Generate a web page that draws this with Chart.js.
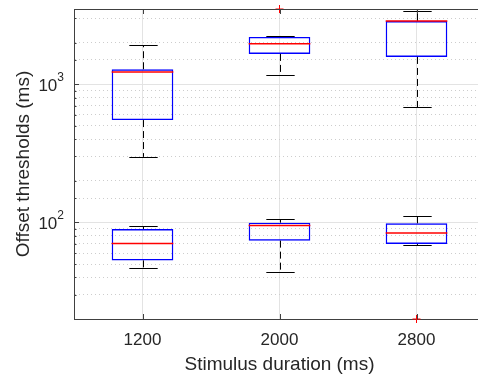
<!DOCTYPE html>
<html>
<head>
<meta charset="utf-8">
<script src="https://cdn.jsdelivr.net/npm/chart.js@4.4.1/dist/chart.umd.min.js"></script>
<style>
  html, body { margin: 0; padding: 0; background: #fff; overflow: hidden; }
  #wrap { width: 490px; height: 378px; }
</style>
</head>
<body>
<div id="wrap"><canvas id="myChart"></canvas></div>
<script>
// Stimulus durations (categories)
const durations = ["1200", "2000", "2800"];
// upper group of boxes (ms)
const hiWhiskLow = [298, 1167, 682];
const hiQ1 = [550, 1656, 1574];
const hiMedian = [1227, 1963, 2866];
const hiQ3 = [1283, 2198, 2866];
const hiWhiskHigh = [1915, 2233, 3404];
const hiOutliers = [null, 3500, null];
// lower group of boxes (ms)
const loWhiskLow = [46.9, 43.4, 68.7];
const loQ1 = [53.1, 73.8, 69.8];
const loMedian = [70.5, 95.1, 83.8];
const loQ3 = [89.6, 99.5, 98.5];
const loWhiskHigh = [93.6, 105.8, 111.8];
const loOutliers = [null, null, 20];
// y axis
const yMin = 20;
const yMax = 3500;
const yLabelTicks = [100, 1000];

const axisColor = "#404040";
const textColor = "#262626";
const fontFamily = "'Liberation Sans', Arial, sans-serif";

// whiskers, caps, medians, inward ticks, top frame, y labels
const boxExtras = {
  id: "boxExtras",
  afterDatasetsDraw(chart) {
    const { ctx, chartArea } = chart;
    const x = chart.scales.x;
    const y = chart.scales.y;
    const meta = chart.getDatasetMeta(0);
    const groups = [
      [hiWhiskLow, hiQ1, hiMedian, hiQ3, hiWhiskHigh],
      [loWhiskLow, loQ1, loMedian, loQ3, loWhiskHigh],
    ];
    ctx.save();
    groups.forEach(([wl, q1, med, q3, wh]) => {
      durations.forEach((d, i) => {
        const cx = Math.round(x.getPixelForValue(i)) + 0.5;
        const half = meta.data[i].width / 2;
        const cap = half * 0.46;
        // dashed whiskers
        ctx.strokeStyle = "#000";
        ctx.lineWidth = 1;
        ctx.setLineDash([7, 4]);
        ctx.beginPath();
        ctx.moveTo(cx, y.getPixelForValue(q3[i]));
        ctx.lineTo(cx, y.getPixelForValue(wh[i]));
        ctx.moveTo(cx, y.getPixelForValue(q1[i]));
        ctx.lineTo(cx, y.getPixelForValue(wl[i]));
        ctx.stroke();
        // caps
        ctx.setLineDash([]);
        ctx.beginPath();
        [wh[i], wl[i]].forEach((v) => {
          const py = Math.round(y.getPixelForValue(v)) + 0.5;
          ctx.moveTo(cx - cap, py);
          ctx.lineTo(cx + cap, py);
        });
        ctx.stroke();
      });
    });
    // medians on top
    ctx.strokeStyle = "#ff0000";
    ctx.lineWidth = 1.5;
    [hiMedian, loMedian].forEach((med) => {
      durations.forEach((d, i) => {
        const cx = x.getPixelForValue(i);
        const half = meta.data[i].width / 2;
        const my = y.getPixelForValue(med[i]);
        ctx.beginPath();
        ctx.moveTo(cx - half, my);
        ctx.lineTo(cx + half, my);
        ctx.stroke();
      });
    });
    // top frame line
    ctx.strokeStyle = axisColor;
    ctx.lineWidth = 1;
    ctx.beginPath();
    ctx.moveTo(chartArea.left, chartArea.top + 0.5);
    ctx.lineTo(chartArea.right, chartArea.top + 0.5);
    ctx.stroke();
    // inward ticks
    ctx.beginPath();
    y.ticks.forEach((t) => {
      if (t.value <= yMin || t.value >= yMax) return;
      const py = Math.round(y.getPixelForValue(t.value)) + 0.5;
      const len = yLabelTicks.includes(t.value) ? 5 : 2.5;
      ctx.moveTo(chartArea.left, py);
      ctx.lineTo(chartArea.left + len, py);
    });
    durations.forEach((d, i) => {
      const px = Math.round(x.getPixelForValue(i)) + 0.5;
      ctx.moveTo(px, chartArea.bottom);
      ctx.lineTo(px, chartArea.bottom - 5);
      ctx.moveTo(px, chartArea.top);
      ctx.lineTo(px, chartArea.top + 5);
    });
    ctx.stroke();
    // y tick labels 10^2, 10^3
    ctx.fillStyle = textColor;
    ctx.textBaseline = "middle";
    ctx.textAlign = "right";
    yLabelTicks.forEach((v) => {
      const py = y.getPixelForValue(v);
      const exp = String(Math.round(Math.log10(v)));
      ctx.font = "12px " + fontFamily;
      const ew = ctx.measureText(exp).width;
      const right = chartArea.left - 10;
      ctx.fillText(exp, right, py - 7);
      ctx.font = "17px " + fontFamily;
      ctx.fillText("10", right - ew, py + 2);
    });
    ctx.restore();
  },
};

const ctx = document.getElementById("myChart");
new Chart(ctx, {
  type: "bar",
  data: {
    labels: durations,
    datasets: [
      {
        label: "upper",
        data: durations.map((d, i) => [hiQ1[i], hiQ3[i]]),
        backgroundColor: "rgba(0,0,0,0)",
        borderColor: "#0000ff",
        borderWidth: 1.4,
        borderSkipped: false,
        grouped: false,
        categoryPercentage: 1,
        barPercentage: 0.45,
      },
      {
        label: "lower",
        data: durations.map((d, i) => [loQ1[i], loQ3[i]]),
        backgroundColor: "rgba(0,0,0,0)",
        borderColor: "#0000ff",
        borderWidth: 1.4,
        borderSkipped: false,
        grouped: false,
        categoryPercentage: 1,
        barPercentage: 0.45,
      },
      {
        type: "line",
        label: "outliers",
        data: durations.map((d, i) => hiOutliers[i] ?? loOutliers[i]),
        showLine: false,
        pointStyle: "cross",
        pointRadius: 4,
        borderColor: "#ff0000",
        borderWidth: 1,
        clip: false,
      },
    ],
  },
  options: {
    responsive: true,
    maintainAspectRatio: false,
    animation: false,
    layout: { padding: { top: 9, right: 5, left: 0, bottom: 0 } },
    plugins: { legend: { display: false }, tooltip: { enabled: false } },
    scales: {
      x: {
        offset: true,
        afterFit: (scale) => { scale.height = 59; },
        grid: {
          offset: false,
          drawTicks: false,
          color: (c) => (c.index < durations.length ? "#e3e3e3" : "rgba(0,0,0,0)"),
        },
        border: { color: axisColor, width: 1 },
        ticks: {
          color: textColor,
          padding: 11,
          font: { size: 17, family: fontFamily },
        },
        title: {
          display: true,
          text: "Stimulus duration (ms)",
          color: textColor,
          padding: { top: 0, bottom: 2 },
          font: { size: 19, family: fontFamily },
        },
      },
      y: {
        type: "logarithmic",
        min: yMin,
        max: yMax,
        afterFit: (scale) => { scale.width = 74; },
        grid: {
          drawTicks: false,
          color: (c) => {
            const v = c.tick && c.tick.value;
            if (v <= yMin || v >= yMax) return "rgba(0,0,0,0)";
            return yLabelTicks.includes(v) ? "#e3e3e3" : "#cdcdcd";
          },
        },
        border: {
          color: axisColor,
          width: 1,
          dash: (c) => {
            const v = c.tick && c.tick.value;
            return yLabelTicks.includes(v) ? [] : [1, 3];
          },
        },
        ticks: { display: false, autoSkip: false },
        title: {
          display: true,
          text: "Offset thresholds (ms)",
          color: textColor,
          padding: { top: 12, bottom: 39 },
          font: { size: 19, family: fontFamily },
        },
      },
    },
  },
  plugins: [boxExtras],
});
</script>
</body>
</html>
